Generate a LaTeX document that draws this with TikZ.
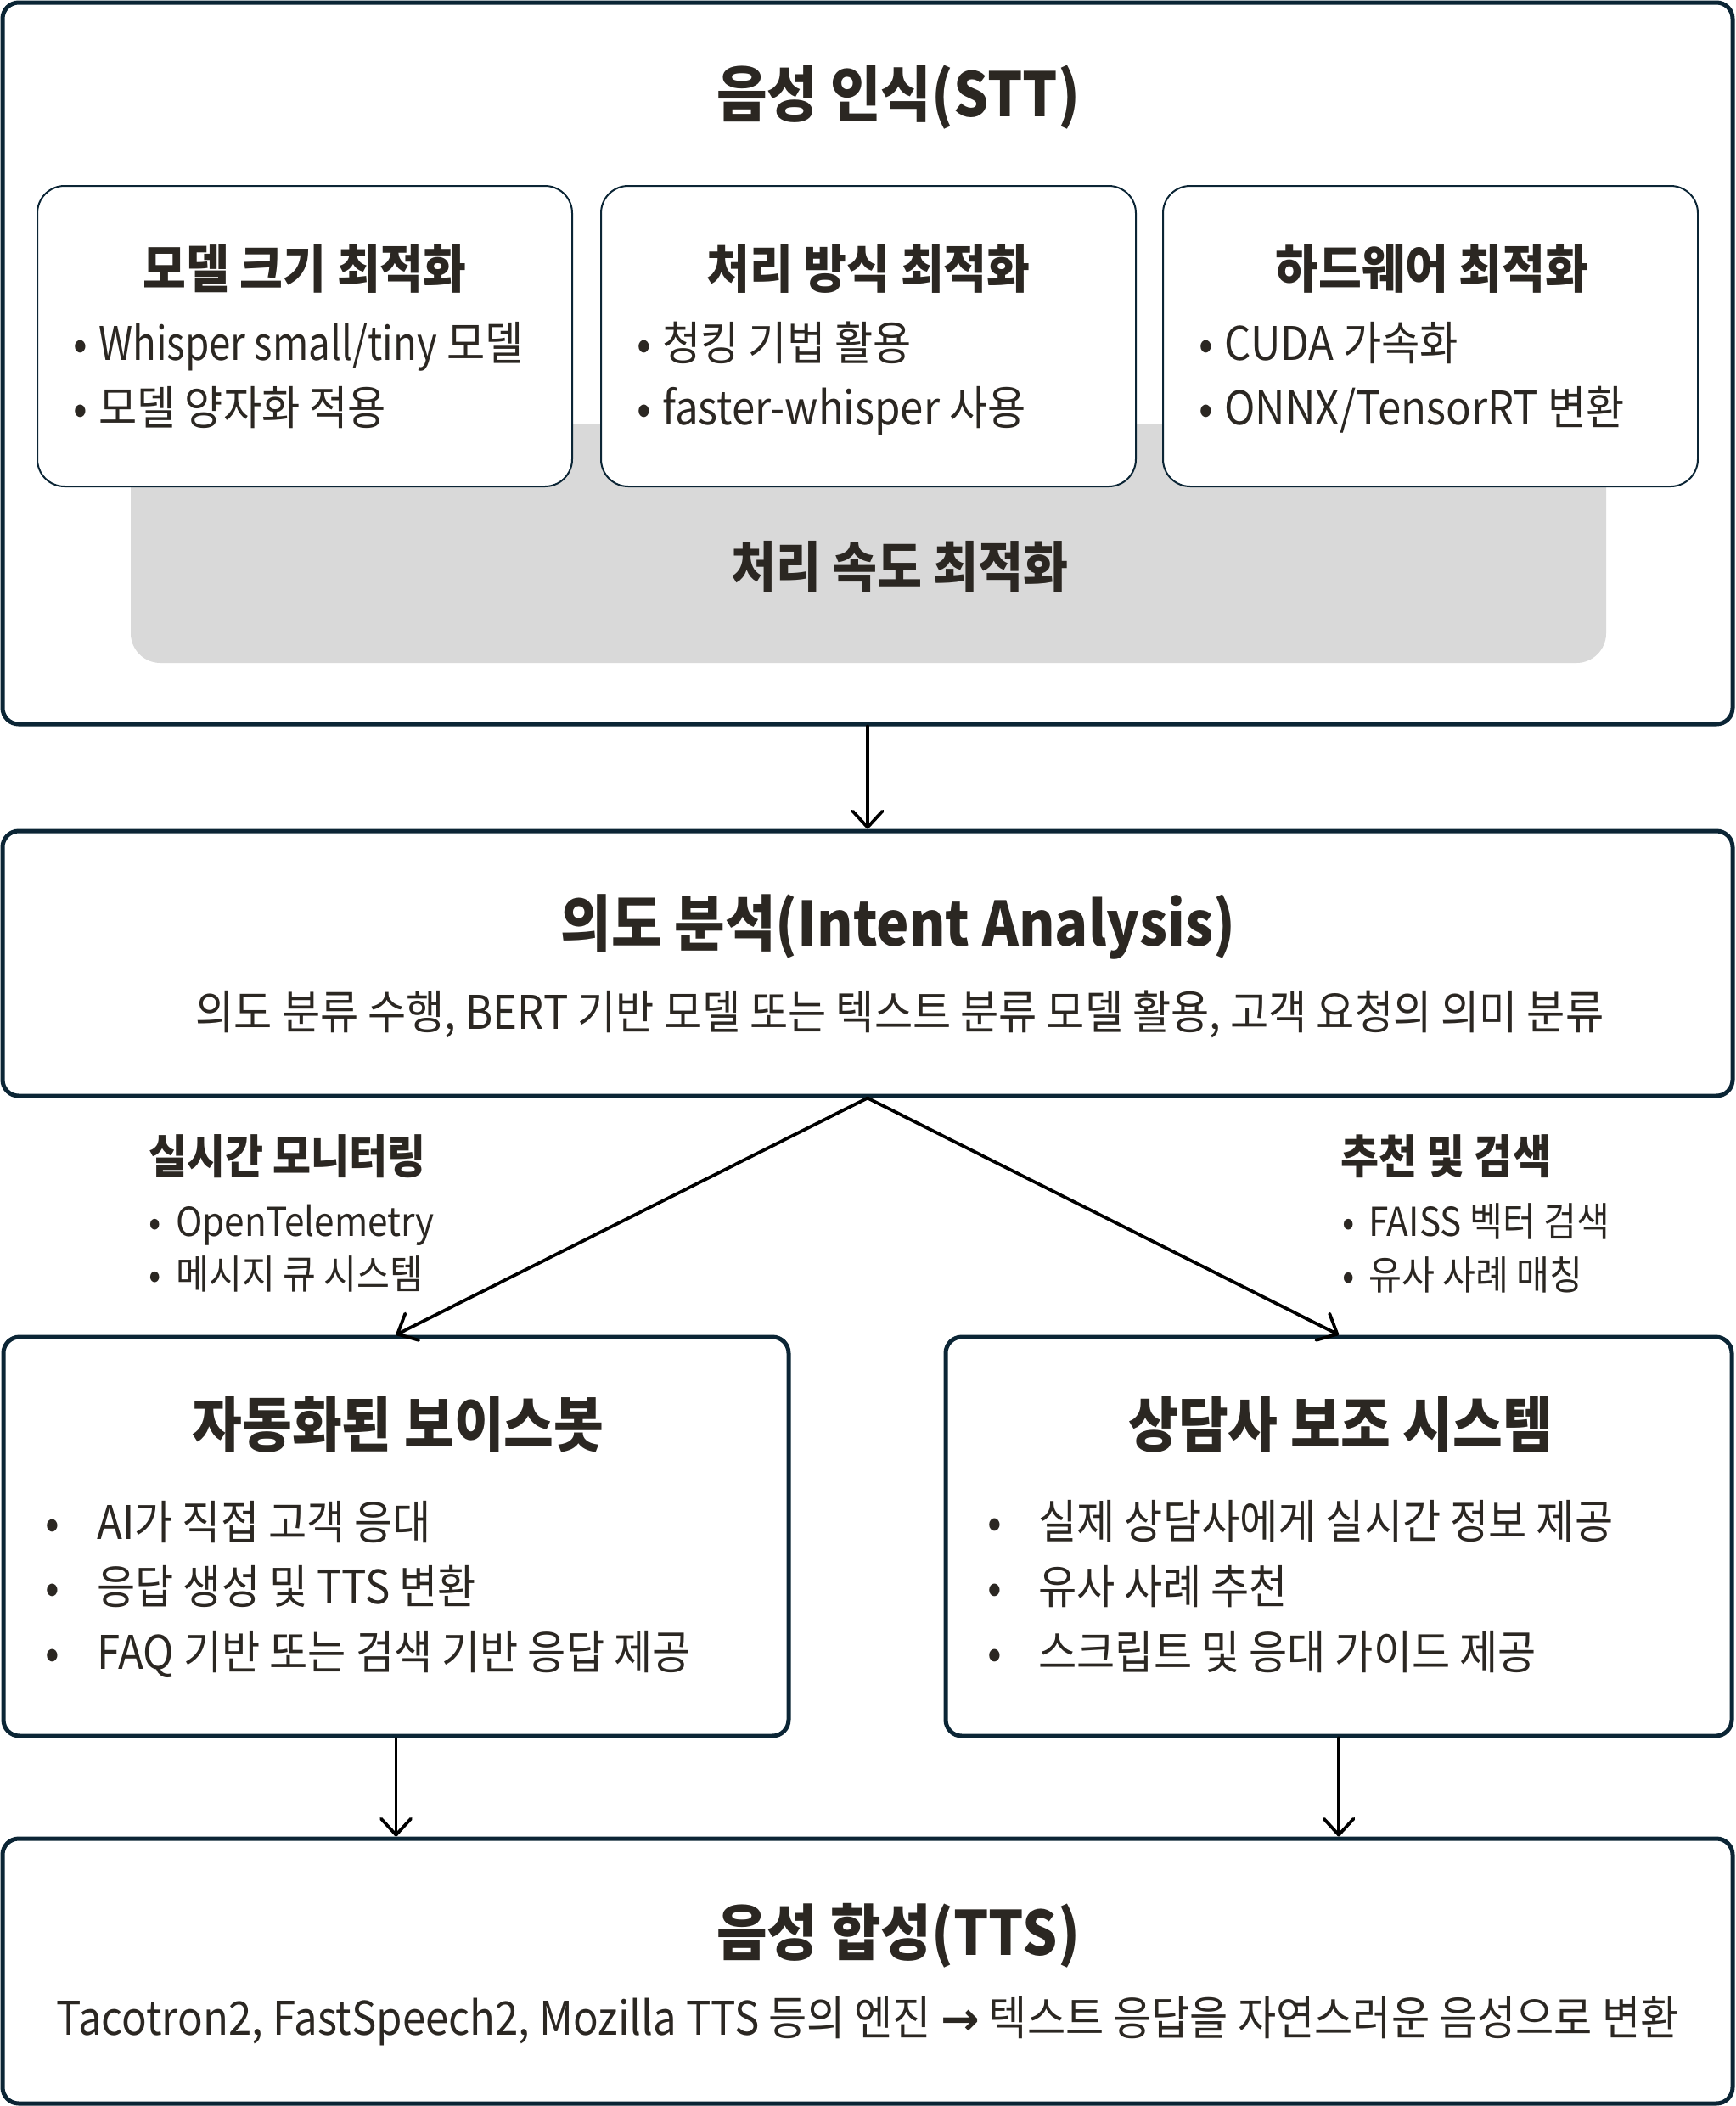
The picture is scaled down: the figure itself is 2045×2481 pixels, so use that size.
\documentclass[tikz,border=0pt]{standalone}
\usepackage{fontspec}
\setmainfont{Noto Sans CJK KR}[FakeStretch=0.9]
\newfontfamily\arrowfont{DejaVu Sans}
\usetikzlibrary{arrows.meta}
\definecolor{bord}{HTML}{0B2535}
\definecolor{txtc}{HTML}{2B2722}
\definecolor{graybg}{HTML}{D9D9D9}
\tikzset{
  bigbox/.style={draw=bord, line width=2.5pt, rounded corners=9.5pt, inner sep=0pt, fill=white},
  subbox/.style={draw=bord, line width=1pt, rounded corners=16pt, inner sep=0pt, fill=white, minimum width=315pt, minimum height=177pt},
  speedbox/.style={fill=graybg, rounded corners=17.5pt, inner sep=0pt, minimum width=869pt, minimum height=141pt},
  bigT/.style={font=\bfseries\fontsize{36pt}{42pt}\selectfont, text=txtc, inner sep=0pt, text height=28.8pt, text depth=3.6pt},
  boxT/.style={font=\bfseries\fontsize{35.5pt}{42pt}\selectfont, text=txtc, inner sep=0pt, text height=28.4pt, text depth=3.55pt},
  subT/.style={font=\bfseries\fontsize{30.7pt}{36pt}\selectfont, text=txtc, inner sep=0pt, text height=24.6pt, text depth=3.07pt},
  speedT/.style={font=\bfseries\fontsize{32pt}{38pt}\selectfont, text=txtc, inner sep=0pt, text height=25.6pt, text depth=3.2pt},
  labT/.style={font=\bfseries\fontsize{27.2pt}{32pt}\selectfont, text=txtc, inner sep=0pt, text height=21.8pt, text depth=2.72pt, anchor=west},
  labB/.style={font=\fontsize{23.5pt}{28pt}\selectfont, text=txtc, inner sep=0pt, text height=18.8pt, text depth=2.35pt, anchor=west},
  subB/.style={font=\fontsize{27.3pt}{32pt}\selectfont, text=txtc, inner sep=0pt, text height=21.8pt, text depth=2.73pt, anchor=west},
  body/.style={font=\fontsize{27.3pt}{32pt}\selectfont, text=txtc, inner sep=0pt, text height=21.8pt, text depth=2.73pt},
  arr/.style={draw=black, line width=1.9pt, line cap=round, -{Straight Barb[length=9.5pt, width=17.5pt, round]}}
}
\begin{document}
\begin{tikzpicture}[x=0.5pt,y=-0.5pt]
\useasboundingbox (0,0) rectangle (2045,2481);
\fill[white] (0,0) rectangle (2045,2481);

% ---------- STT ----------
\node[bigbox, minimum width=1019pt, minimum height=425pt] (stt) at (1022,428) {};
\node[bigT] (sttT) at (1058,112) {음성 인식(STT)};
\node[speedbox] (speed) at (1023,640) {};
\node[subbox] (sb1) at (359,396) {};
\node[subbox] (sb2) at (1023,396) {};
\node[subbox] (sb3) at (1685,396) {};
\node[subT] (sb1T) at (359,318) {모델 크기 최적화};
\node[subT] (sb2T) at (1023,318) {처리 방식 최적화};
\node[subT] (sb3T) at (1687,318) {하드웨어 최적화};
\node[subB] (sb1a) at (86,405) {\makebox[15pt][l]{•}\scalebox{0.93}[1]{Whisper small/tiny} 모델};
\node[subB] (sb1b) at (86,481) {\makebox[15pt][l]{•}모델 양자화 적용};
\node[subB] (sb2a) at (750,405) {\makebox[15pt][l]{•}청킹 기법 활용};
\node[subB] (sb2b) at (750,481) {\makebox[15pt][l]{•}faster-whisper 사용};
\node[subB] (sb3a) at (1412,405) {\makebox[15pt][l]{•}CUDA 가속화};
\node[subB] (sb3b) at (1412,481) {\makebox[15pt][l]{•}ONNX/TensorRT 변환};
\node[speedT] (speedT) at (1060,669) {처리 속도 최적화};

% ---------- Intent ----------
\node[bigbox, minimum width=1019pt, minimum height=156pt] (intent) at (1022,1135) {};
\node[bigT] (intentT) at (1058,1089) {의도 분석(Intent Analysis)};
\node[body] (intentS) at (1060,1193) {의도 분류 수행, BERT 기반 모델 또는 텍스트 분류 모델 활용, 고객 요청의 의미 분류};

% ---------- labels ----------
\node[labT] (monT) at (175,1363) {실시간 모니터링};
\node[labB] (mon1) at (175,1440) {\makebox[16pt][l]{•}OpenTelemetry};
\node[labB] (mon2) at (175,1502) {\makebox[16pt][l]{•}메시지 큐 시스템};
\node[labT] (recT) at (1579,1363) {추천 및 검색};
\node[labB] (rec1) at (1581,1440) {\makebox[15.5pt][l]{•}FAISS 벡터 검색};
\node[labB] (rec2) at (1581,1503) {\makebox[15.5pt][l]{•}유사 사례 매칭};

% ---------- voicebot / counselor ----------
\node[bigbox, minimum width=462.5pt, minimum height=235pt] (vb) at (466.5,1810) {};
\node[boxT] (vbT) at (469,1680) {자동화된 보이스봇};
\node[subB] (vb1) at (53,1794) {\makebox[30.5pt][l]{•}AI가 직접 고객 응대};
\node[subB] (vb2) at (53,1870) {\makebox[30.5pt][l]{•}응답 생성 및 TTS 변환};
\node[subB] (vb3) at (53,1947) {\makebox[30.5pt][l]{•}FAQ 기반 또는 검색 기반 응답 제공};

\node[bigbox, minimum width=463pt, minimum height=235pt] (cs) at (1577,1810) {};
\node[boxT] (csT) at (1579,1680) {상담사 보조 시스템};
\node[subB] (cs1) at (1163,1793) {\makebox[30pt][l]{•}실제 상담사에게 실시간 정보 제공};
\node[subB] (cs2) at (1163,1870) {\makebox[30pt][l]{•}유사 사례 추천};
\node[subB] (cs3) at (1163,1947) {\makebox[30pt][l]{•}스크립트 및 응대 가이드 제공};

% ---------- TTS ----------
\node[bigbox, minimum width=1019pt, minimum height=156pt] (tts) at (1022,2322) {};
\node[bigT] (ttsT) at (1058,2278) {음성 합성(TTS)};
\node[body] (ttsS) at (1022,2378) {Tacotron2, FastSpeech2, Mozilla TTS 등의 엔진 {\arrowfont\bfseries →} 텍스트 응답을 자연스러운 음성으로 변환};

% ---------- connectors ----------
\draw[arr] (stt.south) -- (intent.north);
\draw[arr] (intent.south) -- (vb.north);
\draw[arr] (intent.south) -- (cs.north);
\draw[arr] (vb.south) -- (vb.south |- tts.north);
\draw[arr] (cs.south) -- (cs.south |- tts.north);
\end{tikzpicture}
\end{document}
